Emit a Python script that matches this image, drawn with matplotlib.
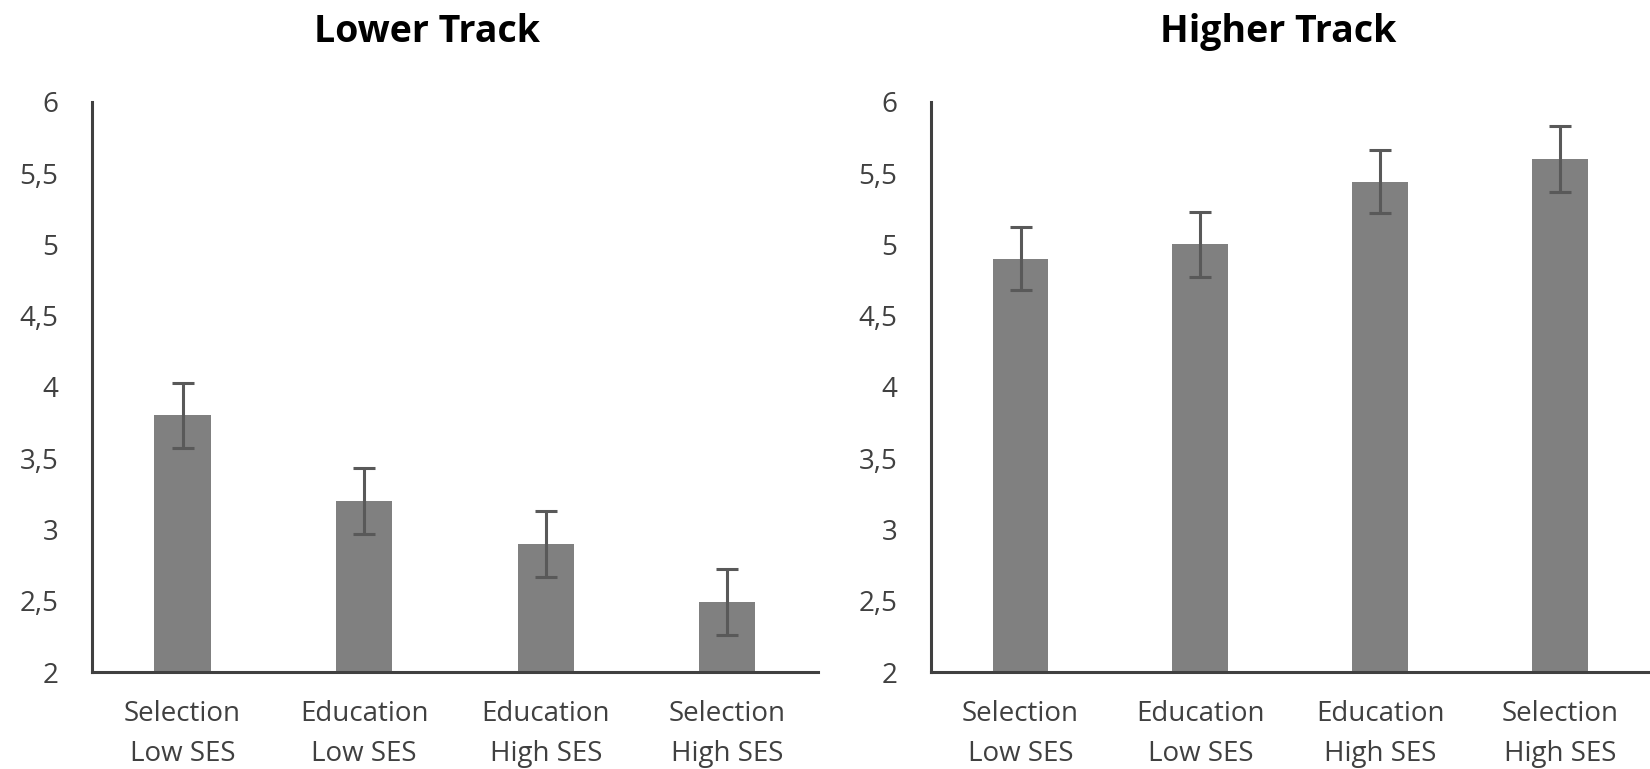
import matplotlib
matplotlib.use("Agg")
import matplotlib.pyplot as plt

plt.rcParams['font.family'] = ['Open Sans', 'DejaVu Sans']

# data
categories = ["Selection\nLow SES", "Education\nLow SES", "Education\nHigh SES", "Selection\nHigh SES"]
lower_means = [3.80, 3.20, 2.90, 2.49]
lower_err = [0.23, 0.23, 0.23, 0.23]
higher_means = [4.90, 5.00, 5.44, 5.60]
higher_err = [0.22, 0.23, 0.22, 0.23]
yticks = [2, 2.5, 3, 3.5, 4, 4.5, 5, 5.5, 6]
ytick_labels = [str(v).replace(".", ",") for v in yticks]

bar_color = "#808080"
err_color = "#595959"
axis_color = "#404040"
text_color = "#404040"

fig = plt.figure(figsize=(16.5, 7.69), dpi=100)
ax1 = fig.add_axes([0.0556, 0.1261, 0.4402, 0.7416])
ax2 = fig.add_axes([0.5640, 0.1261, 0.4360, 0.7416])


def draw_panel(ax, means, errs):
    x = range(len(categories))
    ax.bar(x, means, width=0.31, color=bar_color, zorder=2,
           yerr=errs, ecolor=err_color,
           error_kw=dict(elinewidth=2.2, capsize=8, capthick=2.2))
    ax.set_xlim(-0.5, 3.5)
    ax.set_ylim(2, 6)
    ax.set_yticks(yticks)
    ax.set_yticklabels(ytick_labels, fontsize=20)
    ax.set_xticks(list(x))
    ax.set_xticklabels(categories, linespacing=1.6, fontsize=20)
    ax.tick_params(axis='both', length=0, colors=text_color)
    ax.tick_params(axis='y', pad=24)
    ax.tick_params(axis='x', pad=20)
    for side in ['top', 'right']:
        ax.spines[side].set_visible(False)
    for side in ['left', 'bottom']:
        ax.spines[side].set_color(axis_color)
        ax.spines[side].set_linewidth(2.2)
    ax.spines['bottom'].set_zorder(3)


draw_panel(ax1, lower_means, lower_err)
draw_panel(ax2, higher_means, higher_err)

fig.text(0.259, 0.958, "Lower Track", ha='center', va='center',
         fontsize=27, fontweight='bold', color='black')
fig.text(0.7745, 0.958, "Higher Track", ha='center', va='center',
         fontsize=27, fontweight='bold', color='black')

fig.savefig("out.png", dpi=100)
